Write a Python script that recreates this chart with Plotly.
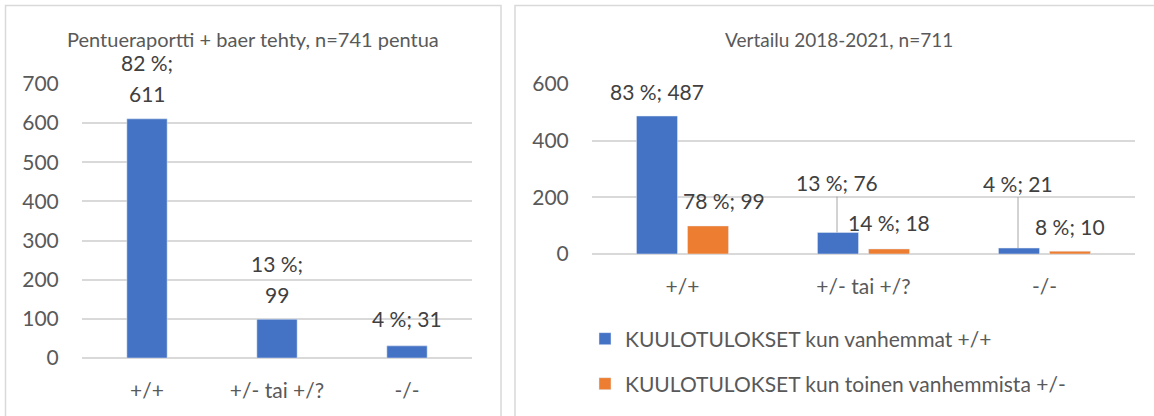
import plotly.graph_objects as go

W, H = 1154, 416

# ---------------- data ----------------
categories = ["+/+", "+/- tai +/?", "-/-"]

left_title = "Pentueraportti + baer tehty, n=741 pentua"
left_values = [611, 99, 31]
left_pct = [82, 13, 4]

right_title = "Vertailu 2018-2021, n=711"
series_names = ["KUULOTULOKSET kun vanhemmat +/+",
                "KUULOTULOKSET kun toinen vanhemmista +/-"]
blue_values = [487, 76, 21]
blue_pct = [83, 13, 4]
orange_values = [99, 18, 10]
orange_pct = [78, 14, 8]

left_ticks = [0, 100, 200, 300, 400, 500, 600, 700]
right_ticks = [0, 200, 400, 600]

# ---------------- style ----------------
FONT = "Lato"
BLUE = "#4472C4"
ORANGE = "#ED7D31"
GRID = "#D9D9D9"
AXIS_TXT = "#595959"
LABEL_TXT = "#404040"
FS = 21


def px_x(p):
    return p / W


def px_y(p):
    return 1 - p / H


fig = go.Figure()

fig.add_trace(go.Bar(x=categories, y=left_values, marker_color=BLUE,
                     width=0.31, xaxis="x", yaxis="y", showlegend=False))
fig.add_trace(go.Bar(x=categories, y=blue_values, marker_color=BLUE,
                     name=series_names[0], xaxis="x2", yaxis="y2",
                     legend="legend"))
fig.add_trace(go.Bar(x=categories, y=orange_values, marker_color=ORANGE,
                     name=series_names[1], xaxis="x2", yaxis="y2",
                     legend="legend2"))

annotations = []

# chart titles
annotations.append(dict(text=left_title, x=px_x(253), y=px_y(39), xref="paper", yref="paper",
                        showarrow=False, xanchor="center", yanchor="middle",
                        font=dict(family=FONT, size=20, color=AXIS_TXT)))
annotations.append(dict(text=right_title, x=px_x(839), y=px_y(39), xref="paper", yref="paper",
                        showarrow=False, xanchor="center", yanchor="middle",
                        font=dict(family=FONT, size=19, color=AXIS_TXT)))

lab_font = dict(family=FONT, size=FS, color=LABEL_TXT)

# left data labels (first two wrap to two lines)
left_wrap = [True, True, False]
for c, v, p, wrap in zip(categories, left_values, left_pct, left_wrap):
    if wrap:
        lines = [(f"{p} %;", 56), (f"{v}", 25)]
    else:
        lines = [(f"{p} %; {v}", 27)]
    for t, ys in lines:
        annotations.append(dict(text=t, x=c, y=v, xref="x", yref="y", showarrow=False,
                                xanchor="center", yanchor="middle", yshift=ys, font=lab_font))

# right data labels
blue_style = [dict(xshift=-25.5, yshift=25), dict(xshift=-26.5, ay=-50), dict(xshift=-26.5, ay=-65)]
orange_style = [dict(xshift=41, yshift=25), dict(xshift=25, yshift=26), dict(xshift=25.5, yshift=25)]
for vals, pcts, styles in [(blue_values, blue_pct, blue_style), (orange_values, orange_pct, orange_style)]:
    for c, v, p, st in zip(categories, vals, pcts, styles):
        a = dict(text=f"{p} %; {v}", x=c, y=v, xref="x2", yref="y2", font=lab_font,
                 xanchor="center", xshift=st["xshift"])
        if "ay" in st:
            a.update(showarrow=True, arrowhead=0, arrowwidth=1, arrowcolor="#A6A6A6",
                     ax=0, ay=st["ay"], standoff=0)
        else:
            a.update(showarrow=False, yanchor="middle", yshift=st["yshift"])
        annotations.append(a)

shapes = [
    dict(type="rect", xref="paper", yref="paper", x0=px_x(5.5), x1=px_x(501), y0=-0.05, y1=px_y(5.5),
         line=dict(color=GRID, width=1.5), fillcolor="rgba(0,0,0,0)", layer="below"),
    dict(type="rect", xref="paper", yref="paper", x0=px_x(515), x1=1.05, y0=-0.05, y1=px_y(5.5),
         line=dict(color=GRID, width=1.5), fillcolor="rgba(0,0,0,0)", layer="below"),
]

tick_font = dict(family=FONT, size=FS, color=AXIS_TXT)
common_x = dict(type="category", showgrid=False, showline=False, zeroline=False,
                ticks="outside", ticklen=14, tickcolor="rgba(0,0,0,0)", tickfont=tick_font,
                fixedrange=True)
common_y = dict(showgrid=True, gridcolor=GRID, gridwidth=1.5, zeroline=True, zerolinecolor=GRID,
                zerolinewidth=1.5, showline=False, ticks="outside", ticklen=18,
                tickcolor="rgba(0,0,0,0)", tickfont=tick_font, fixedrange=True)

fig.update_layout(
    width=W, height=H,
    autosize=False,
    margin=dict(l=0, r=0, t=0, b=0, autoexpand=False),
    paper_bgcolor="white", plot_bgcolor="white",
    barmode="group", bargap=0.436, bargroupgap=0.196,
    xaxis=dict(domain=[px_x(82), px_x(472)], anchor="y", **common_x),
    yaxis=dict(domain=[px_y(358), px_y(84)], anchor="x", range=[0, 700], tickvals=left_ticks,
               **common_y),
    xaxis2=dict(domain=[px_x(592), px_x(1135)], anchor="y2", **common_x),
    yaxis2=dict(domain=[px_y(254), px_y(84)], anchor="x2", range=[0, 600], tickvals=right_ticks,
                **common_y),
    legend=dict(x=px_x(585), y=px_y(339), xanchor="left", yanchor="middle",
                font=dict(family=FONT, size=FS, color=AXIS_TXT), itemwidth=30,
                bgcolor="rgba(0,0,0,0)"),
    legend2=dict(x=px_x(585), y=px_y(384), xanchor="left", yanchor="middle",
                 font=dict(family=FONT, size=FS, color=AXIS_TXT), itemwidth=30,
                 bgcolor="rgba(0,0,0,0)"),
    annotations=annotations,
    shapes=shapes,
    font=dict(family=FONT),
)

fig.write_html("out.html", config={"responsive": False, "displayModeBar": False},
               post_script="document.body.style.margin='0';document.body.style.overflow='hidden';")
